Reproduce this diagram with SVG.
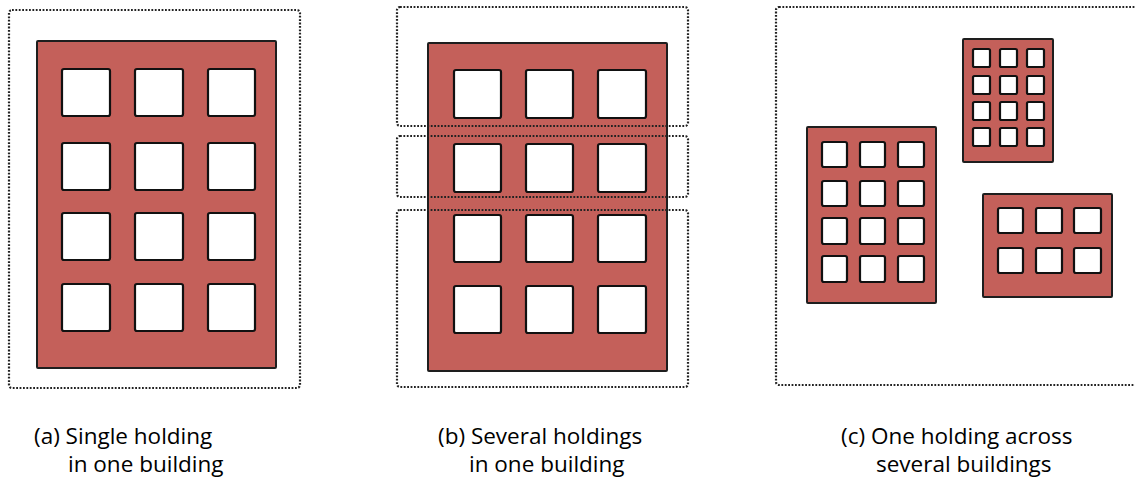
<svg xmlns="http://www.w3.org/2000/svg" width="1135" height="477" viewBox="0 0 1135 477">
<defs>
<style>
.bg{fill:#ffffff}
.bld{fill:#c4605a;stroke:#1e1e1e;stroke-width:2}
.win{fill:#ffffff;stroke:#111111;stroke-width:2.2}
.hold{fill:none;stroke:#222222;stroke-width:2.2;stroke-dasharray:1.8 1.6}
.lbl{font-family:"Open Sans","Noto Sans",sans-serif;font-size:22.5px;fill:#000000}
</style>
</defs>
<rect class="bg" x="0" y="0" width="1135" height="477"/>

<g id="panel-a">
  <rect class="hold" x="9" y="10" width="291" height="378" rx="3"/>
  <g id="building-a">
    <rect class="bld" x="37" y="41" width="239" height="327" rx="1"/>
    <rect class="win" x="62" y="69" width="48" height="47" rx="2"/>
    <rect class="win" x="135" y="69" width="48" height="47" rx="2"/>
    <rect class="win" x="208" y="69" width="47" height="47" rx="2"/>
    <rect class="win" x="62" y="143" width="48" height="47" rx="2"/>
    <rect class="win" x="135" y="143" width="48" height="47" rx="2"/>
    <rect class="win" x="208" y="143" width="47" height="47" rx="2"/>
    <rect class="win" x="62" y="213" width="48" height="47" rx="2"/>
    <rect class="win" x="135" y="213" width="48" height="47" rx="2"/>
    <rect class="win" x="208" y="213" width="47" height="47" rx="2"/>
    <rect class="win" x="62" y="284" width="48" height="47" rx="2"/>
    <rect class="win" x="135" y="284" width="48" height="47" rx="2"/>
    <rect class="win" x="208" y="284" width="47" height="47" rx="2"/>
  </g>
  <text class="lbl" x="34" y="444">(a) Single holding</text>
  <text class="lbl" x="68" y="472">in one building</text>
</g>

<g id="panel-b">
  <g id="building-b">
    <rect class="bld" x="428" y="43" width="239" height="328" rx="1"/>
    <rect class="win" x="454" y="70" width="47" height="48" rx="2"/>
    <rect class="win" x="526" y="70" width="47" height="48" rx="2"/>
    <rect class="win" x="598" y="70" width="48" height="48" rx="2"/>
    <rect class="win" x="454" y="144" width="47" height="48" rx="2"/>
    <rect class="win" x="526" y="144" width="47" height="48" rx="2"/>
    <rect class="win" x="598" y="144" width="48" height="48" rx="2"/>
    <rect class="win" x="454" y="215" width="47" height="47" rx="2"/>
    <rect class="win" x="526" y="215" width="47" height="47" rx="2"/>
    <rect class="win" x="598" y="215" width="48" height="47" rx="2"/>
    <rect class="win" x="454" y="286" width="47" height="47" rx="2"/>
    <rect class="win" x="526" y="286" width="47" height="47" rx="2"/>
    <rect class="win" x="598" y="286" width="48" height="47" rx="2"/>
  </g>
  <rect id="holding-b1" class="hold" x="397" y="7" width="291" height="119" rx="3"/>
  <rect id="holding-b2" class="hold" x="397" y="136" width="291" height="61" rx="3"/>
  <rect id="holding-b3" class="hold" x="397" y="210" width="291" height="177" rx="3"/>
  <text class="lbl" x="438" y="444">(b) Several holdings</text>
  <text class="lbl" x="469" y="472">in one building</text>
</g>

<g id="panel-c">
  <rect class="hold" x="776" y="7" width="370" height="378" rx="3"/>
  <g id="building-c1">
    <rect class="bld" x="963" y="39" width="90" height="123" rx="1"/>
    <rect class="win" x="973" y="49" width="17" height="18" rx="1.5"/>
    <rect class="win" x="1000" y="49" width="17" height="18" rx="1.5"/>
    <rect class="win" x="1027" y="49" width="17" height="18" rx="1.5"/>
    <rect class="win" x="973" y="76" width="17" height="18" rx="1.5"/>
    <rect class="win" x="1000" y="76" width="17" height="18" rx="1.5"/>
    <rect class="win" x="1027" y="76" width="17" height="18" rx="1.5"/>
    <rect class="win" x="973" y="102" width="17" height="18" rx="1.5"/>
    <rect class="win" x="1000" y="102" width="17" height="18" rx="1.5"/>
    <rect class="win" x="1027" y="102" width="17" height="18" rx="1.5"/>
    <rect class="win" x="973" y="128" width="17" height="18" rx="1.5"/>
    <rect class="win" x="1000" y="128" width="17" height="18" rx="1.5"/>
    <rect class="win" x="1027" y="128" width="17" height="18" rx="1.5"/>
  </g>
  <g id="building-c2">
    <rect class="bld" x="807" y="127" width="129" height="176" rx="1"/>
    <rect class="win" x="822" y="142" width="25" height="25" rx="2"/>
    <rect class="win" x="860" y="142" width="25" height="25" rx="2"/>
    <rect class="win" x="898" y="142" width="26" height="25" rx="2"/>
    <rect class="win" x="822" y="181" width="25" height="25" rx="2"/>
    <rect class="win" x="860" y="181" width="25" height="25" rx="2"/>
    <rect class="win" x="898" y="181" width="26" height="25" rx="2"/>
    <rect class="win" x="822" y="218" width="25" height="26" rx="2"/>
    <rect class="win" x="860" y="218" width="25" height="26" rx="2"/>
    <rect class="win" x="898" y="218" width="26" height="26" rx="2"/>
    <rect class="win" x="822" y="256" width="25" height="26" rx="2"/>
    <rect class="win" x="860" y="256" width="25" height="26" rx="2"/>
    <rect class="win" x="898" y="256" width="26" height="26" rx="2"/>
  </g>
  <g id="building-c3">
    <rect class="bld" x="983" y="194" width="129" height="103" rx="1"/>
    <rect class="win" x="998" y="208" width="25" height="25" rx="2"/>
    <rect class="win" x="1036" y="208" width="26" height="25" rx="2"/>
    <rect class="win" x="1074" y="208" width="27" height="25" rx="2"/>
    <rect class="win" x="998" y="248" width="25" height="25" rx="2"/>
    <rect class="win" x="1036" y="248" width="26" height="25" rx="2"/>
    <rect class="win" x="1074" y="248" width="27" height="25" rx="2"/>
  </g>
  <text class="lbl" x="841" y="444">(c) One holding across</text>
  <text class="lbl" x="876" y="472">several buildings</text>
</g>
</svg>
